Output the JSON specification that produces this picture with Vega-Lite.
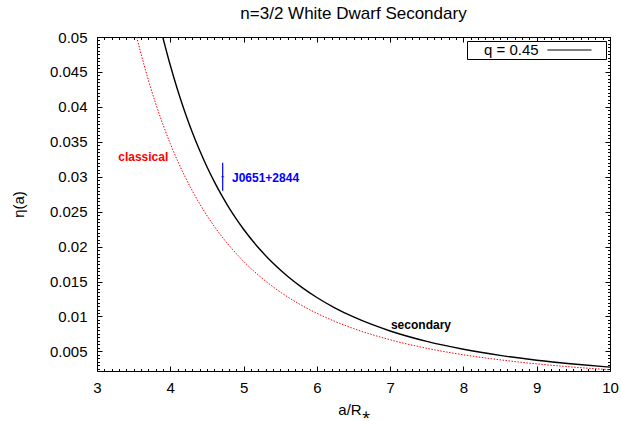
{
  "$schema": "https://vega.github.io/schema/vega-lite/v6.json",
  "autosize": {"type": "none"},
  "padding": {"left": 97, "top": 37, "right": 11, "bottom": 50},
  "width": 513,
  "height": 334,
  "background": "white",
  "title": {"text": "n=3/2 White Dwarf Secondary", "fontSize": 17, "fontWeight": "normal", "font": "Liberation Sans", "color": "black", "offset": 7, "anchor": "middle"},
  "datasets": {
    "classical": [
      {"a": 3.542, "eta": 0.05}, {"a": 3.6, "eta": 0.04762}, {"a": 3.7, "eta": 0.04387},
      {"a": 3.8, "eta": 0.0405}, {"a": 3.9, "eta": 0.03747}, {"a": 4.0, "eta": 0.03474}, {"a": 4.2, "eta": 0.03003},
      {"a": 4.4, "eta": 0.02615}, {"a": 4.6, "eta": 0.02291}, {"a": 4.8, "eta": 0.0202}, {"a": 5.0, "eta": 0.0179},
      {"a": 5.25, "eta": 0.0155}, {"a": 5.5, "eta": 0.01351}, {"a": 5.75, "eta": 0.01185}, {"a": 6.0, "eta": 0.01046},
      {"a": 6.5, "eta": 0.00828}, {"a": 7.0, "eta": 0.00667}, {"a": 7.5, "eta": 0.00545}, {"a": 8.0, "eta": 0.00452},
      {"a": 8.5, "eta": 0.0038}, {"a": 9.0, "eta": 0.00322}, {"a": 9.5, "eta": 0.00276}, {"a": 10.0, "eta": 0.00238}
    ],
    "secondary": [
      {"a": 3.897, "eta": 0.05}, {"a": 4.0, "eta": 0.04595}, {"a": 4.1, "eta": 0.04242},
      {"a": 4.2, "eta": 0.03924}, {"a": 4.3, "eta": 0.03637}, {"a": 4.4, "eta": 0.03379}, {"a": 4.5, "eta": 0.03144},
      {"a": 4.6, "eta": 0.02931}, {"a": 4.7, "eta": 0.02737}, {"a": 4.8, "eta": 0.02559}, {"a": 4.9, "eta": 0.02397},
      {"a": 5.0, "eta": 0.02249}, {"a": 5.2, "eta": 0.01987}, {"a": 5.4, "eta": 0.01765}, {"a": 5.6, "eta": 0.01576},
      {"a": 5.8, "eta": 0.01413}, {"a": 6.0, "eta": 0.01272}, {"a": 6.25, "eta": 0.01121}, {"a": 6.5, "eta": 0.00994},
      {"a": 6.75, "eta": 0.00886}, {"a": 7.0, "eta": 0.00793}, {"a": 7.5, "eta": 0.00644}, {"a": 8.0, "eta": 0.00531},
      {"a": 8.5, "eta": 0.00443}, {"a": 9.0, "eta": 0.00374}, {"a": 9.5, "eta": 0.0032}, {"a": 10.0, "eta": 0.00275}
    ],
    "obs": [{"name": "J0651+2844", "a": 4.715, "eta": 0.030, "lo": 0.028, "hi": 0.032}],
    "labels": [
      {"text": "classical", "a": 3.29, "eta": 0.03284},
      {"text": "J0651+2844", "a": 4.842, "eta": 0.02984},
      {"text": "secondary", "a": 7.011, "eta": 0.00882}
    ]
  },
  "resolve": {"axis": {"x": "independent", "y": "independent"}},
  "layer": [
    {
      "data": {"name": "classical"},
      "mark": {"type": "line", "color": "#ff0000", "strokeWidth": 1, "strokeDash": [1.5, 1.5], "clip": true, "interpolate": "monotone"},
      "encoding": {
        "x": {"field": "a", "type": "quantitative", "scale": {"domain": [3, 10], "nice": false, "zero": false},
          "axis": {"orient": "bottom", "values": [3, 4, 5, 6, 7, 8, 9, 10], "labelExpr": "'' + datum.value", "tickSize": -5, "labelPadding": 14, "labelFontSize": 15, "labelFlush": false, "labelOverlap": false, "title": "a/R⁎", "titleFontSize": 15, "titlePadding": 7, "domainColor": "black"}},
        "y": {"field": "eta", "type": "quantitative", "scale": {"domain": [0.0022, 0.05], "nice": false, "zero": false},
          "axis": {"orient": "left", "values": [0.005, 0.01, 0.015, 0.02, 0.025, 0.03, 0.035, 0.04, 0.045, 0.05], "labelExpr": "'' + datum.value", "tickSize": -5, "labelPadding": 15, "labelFontSize": 15, "labelFlush": false, "labelOverlap": false, "title": "η(a)", "titleFontSize": 15, "titlePadding": 23, "domainColor": "black"}}
      }
    },
    {
      "data": {"name": "secondary"},
      "mark": {"type": "line", "strokeWidth": 1.4, "clip": true, "interpolate": "monotone"},
      "encoding": {
        "x": {"field": "a", "type": "quantitative",
          "axis": {"orient": "top", "values": [3, 4, 5, 6, 7, 8, 9, 10], "tickSize": -5, "labels": false, "title": null, "domainColor": "black"}},
        "y": {"field": "eta", "type": "quantitative",
          "axis": {"orient": "right", "values": [0.005, 0.01, 0.015, 0.02, 0.025, 0.03, 0.035, 0.04, 0.045, 0.05], "tickSize": -5, "labels": false, "title": null, "domainColor": "black"}},
        "color": {"datum": "q = 0.45", "type": "nominal", "scale": {"range": ["black"]},
          "legend": {"orient": "none", "legendX": 370, "legendY": 4, "title": null, "strokeColor": "black", "fillColor": "white", "padding": 1, "cornerRadius": 0,
            "symbolType": "M10.2,0H16.5M18,0", "symbolSize": 196, "symbolStrokeWidth": 1.2, "symbolFillColor": "transparent", "symbolOffset": 0,
            "labelOffset": 0, "labelFontSize": 15, "labelFont": "Liberation Sans", "labelColor": "black"}}
      }
    },
    {
      "data": {"name": "secondary"},
      "mark": {"type": "point", "opacity": 0},
      "encoding": {
        "x": {"field": "a", "type": "quantitative",
          "axis": {"orient": "bottom", "values": [3.1,3.2,3.3,3.4,3.5,3.6,3.7,3.8,3.9,4.1,4.2,4.3,4.4,4.5,4.6,4.7,4.8,4.9,5.1,5.2,5.3,5.4,5.5,5.6,5.7,5.8,5.9,6.1,6.2,6.3,6.4,6.5,6.6,6.7,6.8,6.9,7.1,7.2,7.3,7.4,7.5,7.6,7.7,7.8,7.9,8.1,8.2,8.3,8.4,8.5,8.6,8.7,8.8,8.9,9.1,9.2,9.3,9.4,9.5,9.6,9.7,9.8,9.9], "tickSize": -2.5, "labels": false, "title": null, "domain": false}},
        "y": {"field": "eta", "type": "quantitative",
          "axis": {"orient": "left", "values": [0.0025,0.003,0.0035,0.004,0.0045,0.0055,0.006,0.0065,0.007,0.0075,0.008,0.0085,0.009,0.0095,0.0105,0.011,0.0115,0.012,0.0125,0.013,0.0135,0.014,0.0145,0.0155,0.016,0.0165,0.017,0.0175,0.018,0.0185,0.019,0.0195,0.0205,0.021,0.0215,0.022,0.0225,0.023,0.0235,0.024,0.0245,0.0255,0.026,0.0265,0.027,0.0275,0.028,0.0285,0.029,0.0295,0.0305,0.031,0.0315,0.032,0.0325,0.033,0.0335,0.034,0.0345,0.0355,0.036,0.0365,0.037,0.0375,0.038,0.0385,0.039,0.0395,0.0405,0.041,0.0415,0.042,0.0425,0.043,0.0435,0.044,0.0445,0.0455,0.046,0.0465,0.047,0.0475,0.048,0.0485,0.049,0.0495], "tickSize": -2.5, "labels": false, "title": null, "domain": false}}
      }
    },
    {
      "data": {"name": "secondary"},
      "mark": {"type": "point", "opacity": 0},
      "encoding": {
        "x": {"field": "a", "type": "quantitative",
          "axis": {"orient": "top", "values": [3.1,3.2,3.3,3.4,3.5,3.6,3.7,3.8,3.9,4.1,4.2,4.3,4.4,4.5,4.6,4.7,4.8,4.9,5.1,5.2,5.3,5.4,5.5,5.6,5.7,5.8,5.9,6.1,6.2,6.3,6.4,6.5,6.6,6.7,6.8,6.9,7.1,7.2,7.3,7.4,7.5,7.6,7.7,7.8,7.9,8.1,8.2,8.3,8.4,8.5,8.6,8.7,8.8,8.9,9.1,9.2,9.3,9.4,9.5,9.6,9.7,9.8,9.9], "tickSize": -2.5, "labels": false, "title": null, "domain": false}},
        "y": {"field": "eta", "type": "quantitative",
          "axis": {"orient": "right", "values": [0.0025,0.003,0.0035,0.004,0.0045,0.0055,0.006,0.0065,0.007,0.0075,0.008,0.0085,0.009,0.0095,0.0105,0.011,0.0115,0.012,0.0125,0.013,0.0135,0.014,0.0145,0.0155,0.016,0.0165,0.017,0.0175,0.018,0.0185,0.019,0.0195,0.0205,0.021,0.0215,0.022,0.0225,0.023,0.0235,0.024,0.0245,0.0255,0.026,0.0265,0.027,0.0275,0.028,0.0285,0.029,0.0295,0.0305,0.031,0.0315,0.032,0.0325,0.033,0.0335,0.034,0.0345,0.0355,0.036,0.0365,0.037,0.0375,0.038,0.0385,0.039,0.0395,0.0405,0.041,0.0415,0.042,0.0425,0.043,0.0435,0.044,0.0445,0.0455,0.046,0.0465,0.047,0.0475,0.048,0.0485,0.049,0.0495], "tickSize": -2.5, "labels": false, "title": null, "domain": false}}
      }
    },
    {
      "data": {"name": "obs"},
      "mark": {"type": "rule", "color": "#0000ff", "strokeWidth": 1.2},
      "encoding": {
        "x": {"field": "a", "type": "quantitative", "axis": null},
        "y": {"field": "lo", "type": "quantitative", "axis": null},
        "y2": {"field": "hi"}
      }
    },
    {
      "data": {"name": "obs"},
      "mark": {"type": "tick", "color": "#0000ff", "orient": "horizontal", "size": 3, "thickness": 1},
      "encoding": {
        "x": {"field": "a", "type": "quantitative", "axis": null},
        "y": {"field": "eta", "type": "quantitative", "axis": null}
      }
    },
    {
      "data": {"name": "labels"},
      "transform": [{"filter": "datum.text === 'classical'"}],
      "mark": {"type": "text", "align": "left", "baseline": "middle", "font": "Liberation Sans", "fontSize": 12, "fontWeight": "bold", "color": "#ff0000"},
      "encoding": {
        "x": {"field": "a", "type": "quantitative", "axis": null},
        "y": {"field": "eta", "type": "quantitative", "axis": null},
        "text": {"field": "text"}
      }
    },
    {
      "data": {"name": "labels"},
      "transform": [{"filter": "datum.text === 'J0651+2844'"}],
      "mark": {"type": "text", "align": "left", "baseline": "middle", "font": "Liberation Sans", "fontSize": 12, "fontWeight": "bold", "color": "#0000ff"},
      "encoding": {
        "x": {"field": "a", "type": "quantitative", "axis": null},
        "y": {"field": "eta", "type": "quantitative", "axis": null},
        "text": {"field": "text"}
      }
    },
    {
      "data": {"name": "labels"},
      "transform": [{"filter": "datum.text === 'secondary'"}],
      "mark": {"type": "text", "align": "left", "baseline": "middle", "font": "Liberation Sans", "fontSize": 12, "fontWeight": "bold", "color": "black"},
      "encoding": {
        "x": {"field": "a", "type": "quantitative", "axis": null},
        "y": {"field": "eta", "type": "quantitative", "axis": null},
        "text": {"field": "text"}
      }
    }
  ],
  "config": {
    "view": {"stroke": null},
    "axis": {"domainColor": "black", "domainWidth": 1, "tickColor": "black", "tickWidth": 1, "labelColor": "black", "titleColor": "black", "labelFont": "Liberation Sans", "titleFont": "Liberation Sans", "titleFontWeight": "normal", "grid": false}
  }
}
